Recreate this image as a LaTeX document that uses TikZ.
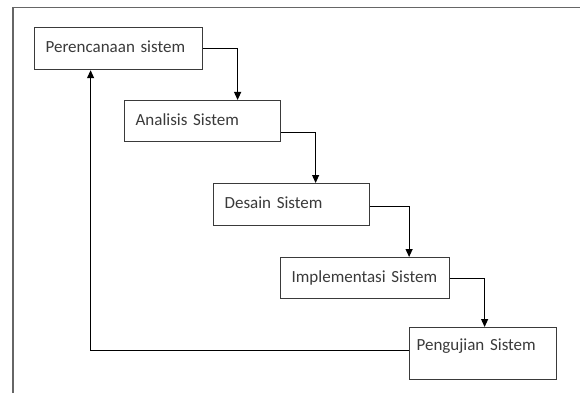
\documentclass[tikz,border=0pt]{standalone}
\usepackage{fontspec}
\setmainfont{Carlito}
\usepackage{xcolor}
\usepackage{tikz}
\usetikzlibrary{arrows.meta}
\definecolor{inkgray}{HTML}{3A3A3A}
\tikzstyle{stage}=[draw=inkgray, line width=1.2pt, rectangle, anchor=north west, align=left, inner xsep=11pt, inner ysep=0pt, text height=12pt, text depth=4pt, text=inkgray, font=\fontsize{17}{20}\selectfont]
\tikzstyle{flow}=[line width=1.1pt, -{Triangle[length=8pt, width=7pt]}]

\begin{document}
\begin{tikzpicture}[x=1pt, y=-1pt]
        \useasboundingbox (0,0) rectangle (580,393);
        \draw[gray!80!black, line width=1.5pt] (13,393) -- (13,7.5) -- (580,7.5);
        \node[stage, text width=146pt, minimum height=42pt] (rencana) at (34,27) {Perencanaan sistem};
        \node[stage, text width=134pt, minimum height=41pt] (analisis) at (124,100) {Analisis Sistem};
        \node[stage, text width=134pt, minimum height=42pt] (desain) at (213,183) {Desain Sistem};
        \node[stage, text width=147pt, minimum height=41pt] (implementasi) at (280,257) {Implementasi Sistem};
        \node[stage, text width=133pt, inner xsep=7pt, text depth=18.6pt, minimum height=52pt] (pengujian) at (409,327) {Pengujian Sistem};
        \draw[flow] (rencana.east) -| ([xshift=35pt]analisis.north);
        \draw[flow] ([yshift=-11pt]analisis.east) -| ([xshift=24pt]desain.north);
        \draw[flow] ([yshift=-2pt]desain.east) -| ([xshift=44pt]implementasi.north);
        \draw[flow] (implementasi.east) -| ([xshift=1.5pt]pengujian.north);
        \draw[flow] ([yshift=3pt]pengujian.west) -| ([xshift=-28pt]rencana.south);
    \end{tikzpicture}
\end{document}
